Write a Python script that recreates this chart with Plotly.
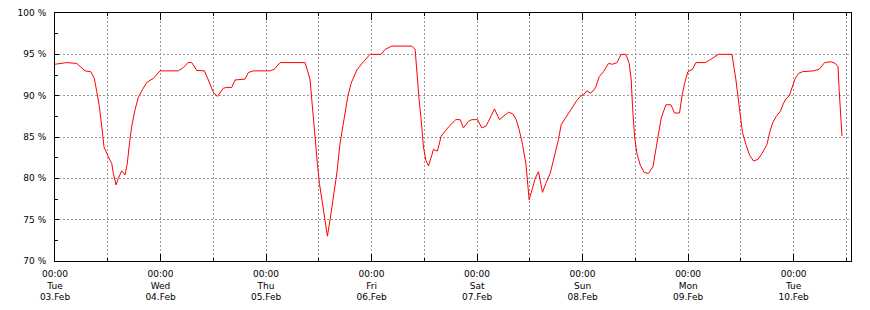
import pandas as pd
import plotly.graph_objects as go

# hours since Tue 03.Feb 00:00
hours = [0, 2.66, 4.94, 6.83, 8.12, 8.94, 9.49, 10.08, 10.63, 11.15, 12.13, 12.90, 13.27, 13.88,
         14.40, 15.18, 15.93, 16.45, 16.84, 17.45, 18.20, 18.95, 19.86, 20.86, 22.37, 23.14, 23.89,
         28.05, 29.19, 30.26, 31.1, 32.24, 33.97, 34.88, 36.02, 36.93, 38.29, 39.07, 40.2, 40.96,
         43.23, 43.98, 45.12, 48.92, 49.9, 51.2, 56.88, 57.5, 58.02, 58.41, 58.77, 59.16, 59.68,
         60.14, 60.68, 61.27, 61.96, 62.57, 63.32, 64.10, 64.85, 65.83, 66.6, 67.35, 68.65, 70.15,
         71.67, 74.18, 75.09, 76.61, 81.16, 81.91, 82.3, 82.82, 83.28, 83.8, 84.35, 84.94, 85.71,
         86.07, 86.99, 87.83, 88.74, 89.65, 91.17, 92.15, 92.9, 94.04, 94.81, 96.09, 97.09, 98.0,
         98.98, 99.95, 101.1, 102.23, 103.14, 104.14, 104.89, 105.57, 106.33, 107.1, 107.55, 107.85,
         108.6, 109.22, 109.97, 110.88, 111.65, 112.63, 113.38, 114.52, 115.13, 116.43, 117.57,
         118.54, 119.45, 120.2, 120.98, 121.73, 122.48, 123.03, 123.78, 124.76, 125.9, 126.81,
         127.81, 128.78, 129.85, 130.6, 131.06, 131.36, 131.81, 132.36, 133.11, 134.02, 135.0,
         136.0, 136.52, 137.14, 137.89, 138.96, 140.09, 140.91, 142.05, 142.6, 143.19, 143.96,
         145.01, 145.78, 147.9, 148.88, 150.17, 150.92, 153.97, 154.34, 154.88, 155.34, 155.86,
         156.38, 157.16, 157.98, 158.89, 159.89, 160.8, 161.94, 162.53, 163.21, 164.05, 164.96,
         165.71, 166.26, 167.01, 167.76, 168.37, 169.13, 170.04, 172.54, 173.84, 175.04, 176.57,
         177.47, 178.09, 178.38, 178.61, 178.84, 179.0]
values = [93.8, 94.0, 93.9, 93.0, 92.9, 92.1, 90.5, 88.7, 86.3, 83.8, 82.6, 81.8, 80.6, 79.2,
          80.0, 80.9, 80.4, 81.8, 83.8, 86.3, 88.3, 89.8, 90.7, 91.6, 92.1, 92.5, 93.0,
          93.0, 93.4, 94.0, 94.0, 93.05, 93.0, 91.9, 90.4, 89.9, 90.9, 91.0, 91.0, 91.9,
          92.0, 92.8, 93.0, 93.0, 93.2, 94.0, 94.0, 92.9, 91.9, 89.5, 87.1, 84.9, 81.8,
          79.4, 77.4, 75.0, 73.0, 75.0, 77.8, 80.6, 84.3, 87.5, 89.9, 91.5, 93.1, 94.1,
          95.0, 95.0, 95.6, 96.0, 96.0, 95.6, 92.7, 89.5, 87.1, 83.8, 82.2, 81.5, 82.8,
          83.5, 83.3, 85.1, 85.7, 86.3, 87.1, 87.1, 86.1, 86.9, 87.1, 87.1, 86.1, 86.3,
          87.3, 88.4, 87.1, 87.6, 88.0, 87.8, 87.1, 85.9, 84.1, 81.8, 79.4, 77.4,
          78.8, 80.0, 80.8, 78.3, 79.4, 80.6, 82.2, 84.7, 86.5, 87.5, 88.5,
          89.3, 89.9, 90.1, 90.6, 90.3, 90.6, 91.1, 92.3, 92.9, 93.9, 93.8,
          94.0, 95.0, 95.0, 93.9, 91.9, 88.7, 85.1, 83.0, 81.6, 80.7, 80.6,
          81.4, 83.0, 85.1, 87.3, 88.9, 88.9, 87.9, 87.9, 89.9, 91.5, 92.9,
          93.2, 94.0, 94.0, 94.3, 94.7, 95.0, 95.0, 93.9, 91.9, 89.9, 87.5,
          85.5, 84.1, 82.8, 82.1, 82.3, 83.0, 84.1, 85.5, 86.7, 87.5, 88.1,
          89.1, 89.6, 90.0, 91.1, 92.1, 92.7, 92.9, 93.0, 93.2, 94.0, 94.1,
          93.9, 93.5, 90.5, 88.3, 86.1, 85.1]

start = pd.Timestamp("2015-02-03 00:00")
day_ticks = ["2015-02-03", "2015-02-04", "2015-02-05", "2015-02-06", "2015-02-07",
             "2015-02-08", "2015-02-09", "2015-02-10"]
day_labels = ["00:00<br>Tue<br>03.Feb", "00:00<br>Wed<br>04.Feb", "00:00<br>Thu<br>05.Feb",
              "00:00<br>Fri<br>06.Feb", "00:00<br>Sat<br>07.Feb", "00:00<br>Sun<br>08.Feb",
              "00:00<br>Mon<br>09.Feb", "00:00<br>Tue<br>10.Feb"]
y_ticks = [70, 75, 80, 85, 90, 95, 100]
y_labels = ["70 %", "75 %", "80 %", "85 %", "90 %", "95 %", "100 %"]

times = [start + pd.Timedelta(hours=h) for h in hours]

fig = go.Figure()
fig.add_trace(go.Scatter(x=times, y=values, mode="lines",
                         line=dict(color="#ff0000", width=1), showlegend=False,
                         hoverinfo="skip"))

grid = "#999999"
fig.update_layout(
    width=870, height=310,
    margin=dict(l=55, r=19, t=13, b=49, autoexpand=False),
    paper_bgcolor="white", plot_bgcolor="white",
    font=dict(family="DejaVu Sans", size=9, color="black"),
)
fig.update_xaxes(
    type="date", automargin=False,
    range=[start, start + pd.Timedelta(hours=181.05)],
    tickvals=day_ticks, ticktext=day_labels,
    ticks="inside", ticklen=7, tickwidth=1, tickcolor="black",
    showline=True, linecolor="black", linewidth=1, mirror="ticks",
    showgrid=True, gridcolor=grid, griddash="2px,2px", gridwidth=1,
    minor=dict(dtick=12 * 3600 * 1000, tick0="2015-02-03", ticks="inside", ticklen=3,
               tickcolor="black", showgrid=True, gridcolor=grid, griddash="2px,2px",
               gridwidth=1),
    ticklabelstandoff=4,
    zeroline=False,
)
fig.update_yaxes(
    automargin=False,
    range=[70, 100],
    tickvals=y_ticks, ticktext=y_labels,
    ticks="inside", ticklen=4, tickcolor="black",
    showline=True, linecolor="black", linewidth=1, mirror=True,
    showgrid=True, gridcolor=grid, griddash="2px,2px", gridwidth=1,
    minor=dict(dtick=2.5, tick0=70, ticks="inside", ticklen=3, tickcolor="black",
               showgrid=False),
    ticklabelstandoff=6,
    zeroline=False,
)

fig.write_html("out.html")
